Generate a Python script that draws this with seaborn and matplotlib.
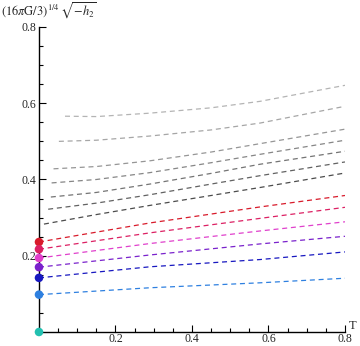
import matplotlib
matplotlib.use("Agg")
import matplotlib.pyplot as plt
from matplotlib.ticker import MultipleLocator
import seaborn as sns
import pandas as pd

sns.set_theme(style="white")
plt.rcParams["font.family"] = ["Liberation Serif", "DejaVu Serif"]
plt.rcParams["mathtext.fontset"] = "stix"

# colored branches, all starting at T = 0
t_colored = [0.0, 0.29, 0.578, 0.8]
red = [0.236, 0.286, 0.328, 0.358]
crimson = [0.217, 0.260, 0.298, 0.327]
magenta = [0.194, 0.232, 0.265, 0.289]
purple = [0.170, 0.202, 0.231, 0.251]
blue = [0.142, 0.171, 0.190, 0.210]
lightblue = [0.098, 0.116, 0.129, 0.141]
colored_vals = [red, crimson, magenta, purple, blue, lightblue]
colored_cols = ["#d81b2b", "#dc2063", "#e040cc", "#7a22cc", "#1818c0", "#2e80e0"]

# start points on the T = 0 axis (last one is the origin)
dot_vals = [0.236, 0.217, 0.194, 0.170, 0.142, 0.098, 0.0]
dot_cols = colored_cols + ["#22c0b0"]

# gray branches, starting slightly right of T = 0
gray_t = [
    [0.068, 0.15, 0.29, 0.45, 0.578, 0.8],
    [0.052, 0.15, 0.29, 0.45, 0.578, 0.8],
    [0.038, 0.15, 0.29, 0.45, 0.578, 0.8],
    [0.033, 0.15, 0.29, 0.45, 0.578, 0.8],
    [0.031, 0.15, 0.29, 0.45, 0.578, 0.8],
    [0.024, 0.15, 0.29, 0.45, 0.578, 0.8],
    [0.013, 0.15, 0.29, 0.45, 0.578, 0.8],
]
gray_vals = [
    [0.566, 0.565, 0.574, 0.588, 0.605, 0.647],
    [0.500, 0.503, 0.514, 0.530, 0.548, 0.592],
    [0.428, 0.434, 0.449, 0.472, 0.494, 0.532],
    [0.391, 0.400, 0.418, 0.444, 0.466, 0.503],
    [0.354, 0.366, 0.388, 0.416, 0.440, 0.474],
    [0.322, 0.338, 0.360, 0.388, 0.410, 0.446],
    [0.283, 0.308, 0.332, 0.358, 0.379, 0.417],
]
gray_cols = ["#b4b4b4", "#a6a6a6", "#969696", "#868686", "#747474", "#626262", "#4c4c4c"]

fig = plt.figure(figsize=(3.6, 3.46), dpi=100)
ax = fig.add_axes([0.1083, 0.0405, 0.85, 0.8815])

for ts, vals, col in zip(gray_t, gray_vals, gray_cols):
    df = pd.DataFrame({"T": ts, "h": vals})
    sns.lineplot(data=df, x="T", y="h", ax=ax, color=col, lw=0.9,
                 linestyle=(0, (4, 3)))

for vals, col in zip(colored_vals, colored_cols):
    df = pd.DataFrame({"T": t_colored, "h": vals})
    sns.lineplot(data=df, x="T", y="h", ax=ax, color=col, lw=0.9,
                 linestyle=(0, (4, 3)))

dots = pd.DataFrame({"T": [0.0] * len(dot_vals), "h": dot_vals})
sns.scatterplot(data=dots, x="T", y="h", ax=ax, hue=dots.index.astype(str),
                palette=dot_cols, s=38, edgecolor="none", legend=False,
                zorder=5, clip_on=False)

ax.set_xlim(0, 0.8)
ax.set_ylim(0, 0.8)
ax.set_xlabel("")
ax.set_ylabel("")
for side in ["top", "right"]:
    ax.spines[side].set_visible(False)
for side in ["left", "bottom"]:
    ax.spines[side].set_color("black")
    ax.spines[side].set_linewidth(1.0)

ax.xaxis.set_major_locator(MultipleLocator(0.2))
ax.xaxis.set_minor_locator(MultipleLocator(0.05))
ax.yaxis.set_major_locator(MultipleLocator(0.2))
ax.yaxis.set_minor_locator(MultipleLocator(0.05))
ax.tick_params(which="both", direction="in", color="black", width=0.8,
               bottom=True, left=True, labelsize=8.5)
ax.tick_params(which="major", length=5)
ax.tick_params(which="minor", length=3)
ax.tick_params(axis="x", pad=1)
ax.tick_params(axis="y", pad=2)
ax.set_xticks([0.2, 0.4, 0.6, 0.8])
ax.set_yticks([0.2, 0.4, 0.6, 0.8])
ax.set_xticklabels(["0.2", "0.4", "0.6", "0.8"])
ax.set_yticklabels(["0.2", "0.4", "0.6", "0.8"])

fig.text(0.003, 0.955, r"$(16\pi\mathrm{G}/3)^{1/4}\,\sqrt{-h_2}$", fontsize=9)
fig.text(0.968, 0.04, "T", fontsize=9, va="bottom")

fig.savefig("out.png", dpi=100)
